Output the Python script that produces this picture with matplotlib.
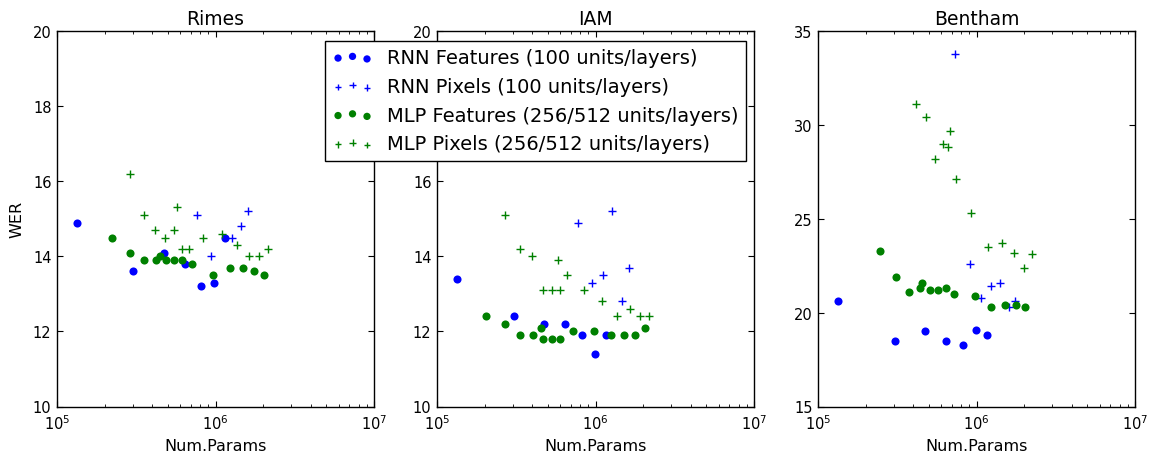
import matplotlib
matplotlib.use("Agg")
import matplotlib.pyplot as plt
import numpy as np

# ---------------- data ----------------
titles = ["Rimes", "IAM", "Bentham"]
legend_labels = ["RNN Features (100 units/layers)", "RNN Pixels (100 units/layers)",
                 "MLP Features (256/512 units/layers)", "MLP Pixels (256/512 units/layers)"]

# Rimes
rimes_rnn_feat_x = [1.34e5, 3.03e5, 4.71e5, 6.4e5, 8.1e5, 9.75e5, 1.14e6]
rimes_rnn_feat_y = [14.9, 13.6, 14.1, 13.8, 13.2, 13.3, 14.5]
rimes_rnn_pix_x = [7.64e5, 9.38e5, 1.28e6, 1.45e6, 1.61e6]
rimes_rnn_pix_y = [15.1, 14.0, 14.5, 14.8, 15.2]
rimes_mlp_feat_x = [2.23e5, 2.89e5, 3.54e5, 4.2e5, 4.49e5, 4.85e5, 5.5e5, 6.15e5, 7.1e5,
                    9.68e5, 1.23e6, 1.49e6, 1.76e6, 2.02e6]
rimes_mlp_feat_y = [14.5, 14.1, 13.9, 13.9, 14.0, 13.9, 13.9, 13.9, 13.8,
                    13.5, 13.7, 13.7, 13.6, 13.5]
rimes_mlp_pix_x = [2.87e5, 3.54e5, 4.17e5, 4.82e5, 5.47e5, 5.71e5, 6.15e5, 6.81e5, 8.38e5,
                   1.1e6, 1.36e6, 1.62e6, 1.88e6, 2.15e6]
rimes_mlp_pix_y = [16.2, 15.1, 14.7, 14.5, 14.7, 15.3, 14.2, 14.2, 14.5,
                   14.6, 14.3, 14.0, 14.0, 14.2]

# IAM
iam_rnn_feat_x = [1.33e5, 3.05e5, 4.75e5, 6.45e5, 8.18e5, 9.89e5, 1.16e6]
iam_rnn_feat_y = [13.4, 12.4, 12.2, 12.2, 11.9, 11.4, 11.9]
iam_rnn_pix_x = [7.73e5, 9.46e5, 1.11e6, 1.28e6, 1.46e6, 1.63e6]
iam_rnn_pix_y = [14.9, 13.3, 13.5, 15.2, 12.8, 13.7]
iam_mlp_feat_x = [2.04e5, 2.7e5, 3.35e5, 4.02e5, 4.55e5, 4.69e5, 5.32e5, 6.0e5, 7.18e5,
                  9.79e5, 1.25e6, 1.51e6, 1.78e6, 2.04e6]
iam_mlp_feat_y = [12.4, 12.2, 11.9, 11.9, 12.1, 11.8, 11.8, 11.8, 12.0,
                  12.0, 11.9, 11.9, 11.9, 12.1]
iam_mlp_pix_x = [2.69e5, 3.33e5, 3.99e5, 4.64e5, 5.29e5, 5.82e5, 5.97e5, 6.61e5, 8.42e5,
                 1.1e6, 1.37e6, 1.64e6, 1.9e6, 2.17e6]
iam_mlp_pix_y = [15.1, 14.2, 14.0, 13.1, 13.1, 13.9, 13.1, 13.5, 13.1,
                 12.8, 12.4, 12.6, 12.4, 12.4]

# Bentham
bentham_rnn_feat_x = [1.34e5, 3.05e5, 4.76e5, 6.45e5, 8.19e5, 9.89e5, 1.16e6]
bentham_rnn_feat_y = [20.6, 18.5, 19.0, 18.5, 18.3, 19.1, 18.8]
bentham_rnn_pix_x = [7.31e5, 9.05e5, 1.07e6, 1.23e6, 1.41e6, 1.6e6, 1.76e6]
bentham_rnn_pix_y = [33.8, 22.6, 20.8, 21.4, 21.6, 20.3, 20.6]
bentham_mlp_feat_x = [2.45e5, 3.1e5, 3.75e5, 4.42e5, 4.53e5, 5.07e5, 5.72e5, 6.4e5, 7.19e5,
                      9.75e5, 1.24e6, 1.51e6, 1.78e6, 2.03e6]
bentham_mlp_feat_y = [23.3, 21.9, 21.1, 21.3, 21.6, 21.2, 21.2, 21.3, 21.0,
                      20.9, 20.3, 20.4, 20.4, 20.3]
bentham_mlp_pix_x = [4.17e5, 4.8e5, 5.47e5, 6.12e5, 6.64e5, 6.8e5, 7.43e5, 9.23e5,
                     1.19e6, 1.45e6, 1.72e6, 1.98e6, 2.24e6]
bentham_mlp_pix_y = [31.1, 30.4, 28.2, 29.0, 28.8, 29.7, 27.1, 25.3,
                     23.5, 23.7, 23.2, 22.4, 23.1]

ylims = [(10, 20), (10, 20), (15, 35)]
yticks = [[10, 12, 14, 16, 18, 20], [10, 12, 14, 16, 18, 20], [15, 20, 25, 30, 35]]

panels = [
    (rimes_rnn_feat_x, rimes_rnn_feat_y, rimes_rnn_pix_x, rimes_rnn_pix_y,
     rimes_mlp_feat_x, rimes_mlp_feat_y, rimes_mlp_pix_x, rimes_mlp_pix_y),
    (iam_rnn_feat_x, iam_rnn_feat_y, iam_rnn_pix_x, iam_rnn_pix_y,
     iam_mlp_feat_x, iam_mlp_feat_y, iam_mlp_pix_x, iam_mlp_pix_y),
    (bentham_rnn_feat_x, bentham_rnn_feat_y, bentham_rnn_pix_x, bentham_rnn_pix_y,
     bentham_mlp_feat_x, bentham_mlp_feat_y, bentham_mlp_pix_x, bentham_mlp_pix_y),
]

# ---------------- figure ----------------
W, H = 1151, 456
fig = plt.figure(figsize=(W / 100, H / 100), dpi=100)

lefts = [57, 437, 818]
ax_w = 317
ax_top = 32
ax_bot = 407.5

handles = None
for i, (left, data) in enumerate(zip(lefts, panels)):
    ax = fig.add_axes([left / W, (H - ax_bot) / H, ax_w / W, (ax_bot - ax_top) / H])
    rfx, rfy, rpx, rpy, mfx, mfy, mpx, mpy = data
    h1 = ax.scatter(rfx, rfy, s=34, c="b", marker="o", linewidths=0, label=legend_labels[0])
    h2 = ax.scatter(rpx, rpy, s=28, c="b", marker="+", linewidths=1.0, label=legend_labels[1])
    h3 = ax.scatter(mfx, mfy, s=34, c="g", marker="o", linewidths=0, label=legend_labels[2])
    h4 = ax.scatter(mpx, mpy, s=28, c="g", marker="+", linewidths=1.0, label=legend_labels[3])
    if handles is None:
        handles = [h1, h2, h3, h4]
    ax.set_xscale("log")
    ax.set_xlim(1e5, 1e7)
    ax.set_ylim(*ylims[i])
    ax.set_yticks(yticks[i])
    ax.set_title(titles[i], fontsize=13.5, pad=5)
    ax.set_xlabel("Num.Params", fontsize=11.5, labelpad=4)
    if i == 0:
        ax.set_ylabel("WER", fontsize=11.5, labelpad=6)
    ax.tick_params(which="both", direction="in", top=True, right=True, labelsize=10.5)
    ax.tick_params(which="major", length=4, width=0.8)
    ax.tick_params(axis="x", which="major", pad=5)
    ax.tick_params(axis="y", which="major", pad=4)
    ax.tick_params(which="minor", length=2, width=0.6)
    ax.tick_params(axis="y", which="minor", left=False, right=False)
    for sp in ax.spines.values():
        sp.set_linewidth(1.0)

leg = fig.legend(handles, legend_labels, loc="upper left",
                 bbox_to_anchor=(325 / W, 1 - 42 / H), fontsize=14,
                 scatterpoints=3, markerscale=0.9, fancybox=False, framealpha=1,
                 edgecolor="black", borderpad=0.37, labelspacing=0.5,
                 handletextpad=0.73, handlelength=2.09, borderaxespad=0)
leg.get_frame().set_linewidth(1.0)

fig.savefig("out.png", dpi=100)
